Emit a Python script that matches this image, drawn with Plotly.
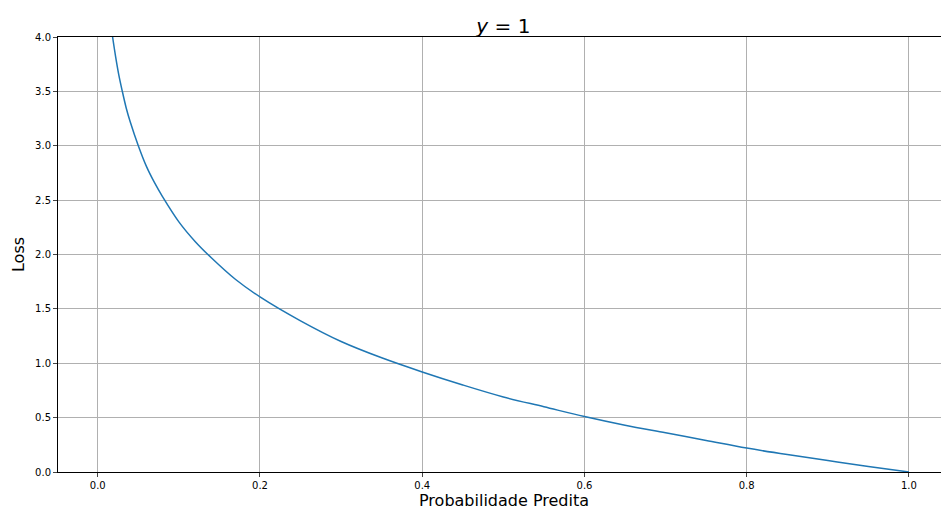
# loss curve for the positive class
import plotly.graph_objects as go

prob = [0.0183, 0.022, 0.026, 0.030, 0.035, 0.040, 0.050, 0.060, 0.070, 0.080, 0.100,
        0.120, 0.140, 0.170, 0.200, 0.250, 0.300, 0.350, 0.400, 0.450, 0.500,
        0.550, 0.600, 0.650, 0.700, 0.750, 0.800, 0.850, 0.900, 0.950, 1.000]
loss = [4.00, 3.82, 3.65, 3.51, 3.35, 3.22, 3.00, 2.81, 2.66, 2.53, 2.30,
        2.12, 1.97, 1.77, 1.61, 1.39, 1.20, 1.05, 0.92, 0.80, 0.69,
        0.60, 0.51, 0.43, 0.36, 0.29, 0.22, 0.16, 0.105, 0.051, 0.0]

fig = go.Figure()
fig.add_trace(go.Scatter(x=prob, y=loss, mode="lines", line_shape="spline",
                         line=dict(color="#1f77b4", width=1.5)))

axis_style = dict(showgrid=True, gridcolor="#b0b0b0", gridwidth=1, showline=True,
                  linecolor="black", mirror=True, ticks="outside", ticklen=4,
                  tickfont=dict(size=10, color="black"), zeroline=False,
                  automargin=False)
fig.update_xaxes(range=[-0.049, 1.0506], tickvals=[0, 0.2, 0.4, 0.6, 0.8, 1.0],
                 ticktext=["0.0", "0.2", "0.4", "0.6", "0.8", "1.0"],
                 title=dict(text="Probabilidade Predita", font=dict(size=16, color="black"), standoff=4),
                 **axis_style)
fig.update_yaxes(range=[0, 4], tickvals=[0, 0.5, 1, 1.5, 2, 2.5, 3, 3.5, 4],
                 ticktext=["0.0", "0.5", "1.0", "1.5", "2.0", "2.5", "3.0", "3.5", "4.0"],
                 title=dict(text="Loss", font=dict(size=16, color="black"), standoff=6),
                 **axis_style)
fig.update_layout(width=949, height=507, showlegend=False,
                  plot_bgcolor="white", paper_bgcolor="white",
                  font=dict(family="DejaVu Sans"),
                  margin=dict(l=50, r=7, t=29, b=43, autoexpand=False),
                  title=dict(text="<i>y</i> = 1", x=0.522, xanchor="center",
                             yref="container", y=0.965, yanchor="middle",
                             font=dict(size=20, color="black")))
fig.write_html("out.html")
